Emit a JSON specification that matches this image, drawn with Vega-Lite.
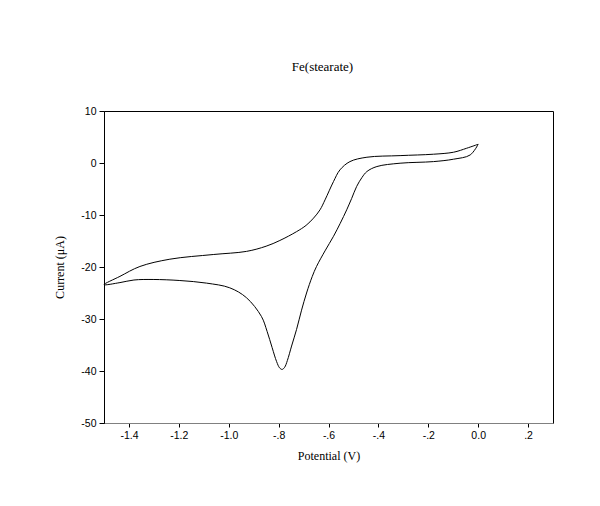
{
  "$schema": "https://vega.github.io/schema/vega-lite/v6.json",
  "width": 449,
  "height": 312,
  "autosize": "none",
  "padding": {"left": 104, "top": 111, "right": 47, "bottom": 83},
  "background": "white",
  "title": {"text": "Fe(stearate)", "font": "Liberation Serif", "fontSize": 13, "fontWeight": "normal", "color": "black", "anchor": "middle", "offset": 32, "dx": -6},
  "config": {
    "view": {"stroke": "black", "strokeWidth": 1},
    "axis": {"labelFont": "Liberation Sans", "labelFontSize": 10.5, "labelColor": "black", "titleFont": "Liberation Serif", "titleFontSize": 12, "titleFontWeight": "normal", "titleColor": "black", "grid": false, "tickColor": "black", "tickSize": 4}
  },
  "data": {"values": [
    {"i": 0, "v": 0.0, "c": 3.6},
    {"i": 1, "v": -0.032, "c": 1.55},
    {"i": 2, "v": -0.099, "c": 0.73},
    {"i": 3, "v": -0.179, "c": 0.27},
    {"i": 4, "v": -0.313, "c": -0.04},
    {"i": 5, "v": -0.406, "c": -0.68},
    {"i": 6, "v": -0.446, "c": -1.64},
    {"i": 7, "v": -0.466, "c": -2.8},
    {"i": 8, "v": -0.487, "c": -4.5},
    {"i": 9, "v": -0.507, "c": -6.8},
    {"i": 10, "v": -0.527, "c": -9.0},
    {"i": 11, "v": -0.553, "c": -11.6},
    {"i": 12, "v": -0.58, "c": -14.1},
    {"i": 13, "v": -0.614, "c": -16.9},
    {"i": 14, "v": -0.648, "c": -19.9},
    {"i": 15, "v": -0.665, "c": -21.8},
    {"i": 16, "v": -0.688, "c": -25.0},
    {"i": 17, "v": -0.708, "c": -28.3},
    {"i": 18, "v": -0.728, "c": -32.0},
    {"i": 19, "v": -0.748, "c": -35.2},
    {"i": 20, "v": -0.765, "c": -38.0},
    {"i": 21, "v": -0.776, "c": -39.3},
    {"i": 22, "v": -0.786, "c": -39.7},
    {"i": 23, "v": -0.796, "c": -39.4},
    {"i": 24, "v": -0.808, "c": -38.2},
    {"i": 25, "v": -0.826, "c": -35.5},
    {"i": 26, "v": -0.846, "c": -32.4},
    {"i": 27, "v": -0.869, "c": -29.5},
    {"i": 28, "v": -0.929, "c": -25.9},
    {"i": 29, "v": -0.996, "c": -24.0},
    {"i": 30, "v": -1.089, "c": -23.1},
    {"i": 31, "v": -1.196, "c": -22.6},
    {"i": 32, "v": -1.303, "c": -22.4},
    {"i": 33, "v": -1.38, "c": -22.5},
    {"i": 34, "v": -1.436, "c": -23.0},
    {"i": 35, "v": -1.5, "c": -23.4},
    {"i": 36, "v": -1.436, "c": -21.8},
    {"i": 37, "v": -1.356, "c": -19.9},
    {"i": 38, "v": -1.236, "c": -18.5},
    {"i": 39, "v": -1.062, "c": -17.6},
    {"i": 40, "v": -0.929, "c": -17.0},
    {"i": 41, "v": -0.85, "c": -16.0},
    {"i": 42, "v": -0.795, "c": -14.9},
    {"i": 43, "v": -0.728, "c": -13.2},
    {"i": 44, "v": -0.69, "c": -12.0},
    {"i": 45, "v": -0.66, "c": -10.6},
    {"i": 46, "v": -0.634, "c": -9.0},
    {"i": 47, "v": -0.614, "c": -7.1},
    {"i": 48, "v": -0.58, "c": -3.57},
    {"i": 49, "v": -0.554, "c": -1.32},
    {"i": 50, "v": -0.514, "c": 0.27},
    {"i": 51, "v": -0.446, "c": 1.11},
    {"i": 52, "v": -0.313, "c": 1.42},
    {"i": 53, "v": -0.179, "c": 1.69},
    {"i": 54, "v": -0.099, "c": 2.07},
    {"i": 55, "v": -0.046, "c": 2.84},
    {"i": 56, "v": 0.0, "c": 3.6}
  ]},
  "mark": {"type": "line", "color": "black", "strokeWidth": 1, "interpolate": "catmull-rom"},
  "encoding": {
    "order": {"field": "i", "type": "quantitative"},
    "x": {"field": "v", "type": "quantitative", "title": "Potential (V)",
      "scale": {"domain": [-1.5, 0.3], "nice": false, "zero": false},
      "axis": {"values": [-1.4, -1.2, -1.0, -0.8, -0.6, -0.4, -0.2, 0.0, 0.2], "domainColor": "#808080", "labelPadding": 3, "titlePadding": 10,
        "labelExpr": "datum.value == 0 ? '0.0' : replace(replace(format(datum.value, '.1f'), '0.', '.'), '\u2212', '-')"}},
    "y": {"field": "c", "type": "quantitative", "title": "Current (μA)",
      "scale": {"domain": [-50, 10], "nice": false, "zero": false},
      "axis": {"values": [-50, -40, -30, -20, -10, 0, 10], "domainColor": "black", "tickSize": 5, "labelPadding": 3, "titlePadding": 14,
        "labelExpr": "replace(format(datum.value, 'd'), '\u2212', '-')"}}
  }
}
